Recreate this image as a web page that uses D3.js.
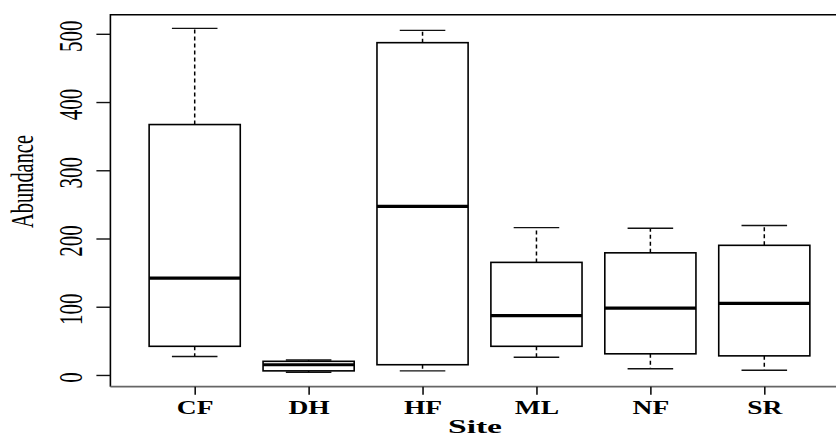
<!DOCTYPE html>
<html>
<head>
<meta charset="utf-8">
<script src="https://cdn.jsdelivr.net/npm/d3@7"></script>
<style>
  html, body { margin: 0; padding: 0; background: #fff; overflow: hidden; }
  svg { display: block; }
</style>
</head>
<body>
<script>
// box plot stats per site
const sites = ["CF", "DH", "HF", "ML", "NF", "SR"];
const lowWhisker = [27, 4, 6, 26, 9, 7];
const q1 = [42, 6, 15, 42, 31, 28];
const median = [142, 15, 247, 87, 98, 105];
const q3 = [367, 20, 487, 165, 179, 190];
const highWhisker = [508, 22, 505, 216, 215, 219];
const yTicks = [0, 100, 200, 300, 400, 500];

const width = 836;
const height = 438;

const data = sites.map((s, i) => ({
  site: s,
  lo: lowWhisker[i],
  q1: q1[i],
  med: median[i],
  q3: q3[i],
  hi: highWhisker[i],
}));

const svg = d3
  .select("body")
  .append("svg")
  .attr("width", width)
  .attr("height", height);

const x = d3.scalePoint().domain(sites).range([194.7, 764.3]);
const step = x.step();
const y = d3.scaleLinear().domain([-17.2, 528]).range([386.7, 14.7]);

const frameL = x(sites[0]) - 0.74 * step;
const frameR = x(sites[sites.length - 1]) + 0.74 * step;
const frameT = y(528);
const frameB = y(-17.2);

const boxW = 0.8 * step;
const capW = boxW / 2;

// boxes
const g = svg
  .append("g")
  .selectAll("g")
  .data(data)
  .join("g")
  .attr("transform", (d) => `translate(${x(d.site)},0)`);

g.append("line")
  .attr("y1", (d) => y(d.q3))
  .attr("y2", (d) => y(d.hi))
  .attr("stroke", "#000")
  .attr("stroke-width", 1.5)
  .attr("stroke-dasharray", "4,3");

g.append("line")
  .attr("y1", (d) => y(d.q1))
  .attr("y2", (d) => y(d.lo))
  .attr("stroke", "#000")
  .attr("stroke-width", 1.5)
  .attr("stroke-dasharray", "4,3");

g.selectAll(".cap")
  .data((d) => [d.lo, d.hi])
  .join("line")
  .attr("class", "cap")
  .attr("x1", -capW / 2)
  .attr("x2", capW / 2)
  .attr("y1", (v) => y(v))
  .attr("y2", (v) => y(v))
  .attr("stroke", "#111")
  .attr("stroke-width", 1.4);

g.append("rect")
  .attr("x", -boxW / 2)
  .attr("width", boxW)
  .attr("y", (d) => y(d.q3))
  .attr("height", (d) => y(d.q1) - y(d.q3))
  .attr("fill", "#fff")
  .attr("stroke", "#000")
  .attr("stroke-width", 1.6);

g.append("line")
  .attr("x1", -boxW / 2)
  .attr("x2", boxW / 2)
  .attr("y1", (d) => y(d.med))
  .attr("y2", (d) => y(d.med))
  .attr("stroke", "#000")
  .attr("stroke-width", 3.2);

// frame
svg
  .append("path")
  .attr("d", `M${frameL},${frameB}V${frameT}H${frameR}`)
  .attr("fill", "none")
  .attr("stroke", "#000")
  .attr("stroke-width", 1.6);
svg
  .append("line")
  .attr("x1", frameL)
  .attr("x2", frameR)
  .attr("y1", frameB)
  .attr("y2", frameB)
  .attr("stroke", "#666")
  .attr("stroke-width", 1.8);

// y axis
const yAxis = svg
  .append("g")
  .attr("transform", `translate(${frameL},0)`)
  .call(d3.axisLeft(y).tickValues(yTicks).tickSize(14).tickFormat(d3.format("d")));
yAxis.select(".domain").remove();
yAxis.selectAll(".tick line").attr("stroke", "#111").attr("stroke-width", 1.4);
yAxis
  .selectAll(".tick text")
  .attr("x", null)
  .attr("dy", null)
  .attr("transform", "translate(-28,2) rotate(-90) scale(1,1.6)")
  .attr("text-anchor", "middle")
  .attr("fill", "#000")
  .style("font-family", "'Liberation Serif', serif")
  .style("font-size", "21px");

// x axis
const xAxis = svg
  .append("g")
  .attr("transform", `translate(0,${frameB})`)
  .call(d3.axisBottom(x).tickSize(8).tickPadding(0));
xAxis.select(".domain").remove();
xAxis.selectAll(".tick line").attr("stroke", "#111").attr("stroke-width", 1.6);
xAxis
  .selectAll(".tick text")
  .attr("y", 27.5)
  .attr("dy", null)
  .attr("transform", "scale(1.45,1)")
  .attr("fill", "#000")
  .style("font-family", "'Liberation Serif', serif")
  .style("font-weight", "bold")
  .style("font-size", "19px");

// axis titles
svg
  .append("text")
  .attr("transform", "translate(33,181.5) rotate(-90) scale(1,1.6)")
  .attr("text-anchor", "middle")
  .attr("textLength", 93)
  .attr("lengthAdjust", "spacingAndGlyphs")
  .style("font-family", "'Liberation Serif', serif")
  .style("font-size", "20px")
  .text("Abundance");

svg
  .append("text")
  .attr("x", 475)
  .attr("y", 433)
  .attr("text-anchor", "middle")
  .attr("textLength", 54)
  .attr("lengthAdjust", "spacingAndGlyphs")
  .style("font-family", "'Liberation Serif', serif")
  .style("font-weight", "bold")
  .style("font-size", "19px")
  .text("Site");
</script>
</body>
</html>
